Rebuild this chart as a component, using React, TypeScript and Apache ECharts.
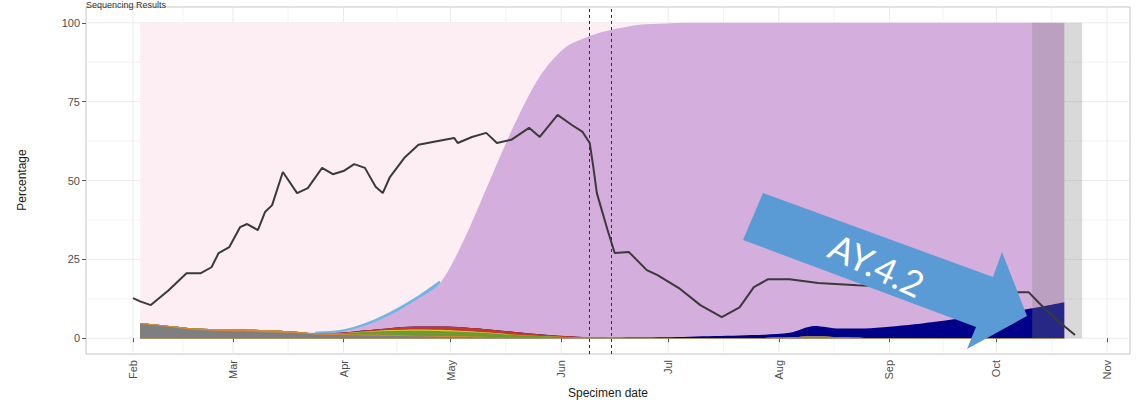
import React, { useEffect, useRef } from "react";
import * as echarts from "echarts";

// ---------- data ----------
const weeks = [
  "2021-02-03", "2021-02-10", "2021-02-17", "2021-02-24", "2021-03-03", "2021-03-10",
  "2021-03-17", "2021-03-24", "2021-03-31", "2021-04-07", "2021-04-14", "2021-04-21",
  "2021-04-28", "2021-05-05", "2021-05-12", "2021-05-19", "2021-05-26", "2021-06-02",
  "2021-06-09", "2021-06-16", "2021-06-23", "2021-06-30", "2021-07-07", "2021-07-14",
  "2021-07-21", "2021-07-28", "2021-08-04", "2021-08-11", "2021-08-18", "2021-08-25",
  "2021-09-01", "2021-09-08", "2021-09-15", "2021-09-22", "2021-09-29", "2021-10-06",
  "2021-10-13", "2021-10-20",
];
const otherLineages = [4.5, 3.7, 2.8, 2.4, 2.2, 2.0, 1.7, 1.2, 1.0, 0.9, 0.8, 0.6, 0.5, 0.4, 0.3, 0.2, 0.2, 0.1, 0.1, 0.1, 0.1, 0.1, 0.1, 0.1, 0.1, 0.1, 0.2, 0.6, 0.3, 0.1, 0.1, 0.1, 0.1, 0.1, 0.1, 0.1, 0.1, 0.1];
const orangeLineage = [0.3, 0.3, 0.4, 0.5, 0.6, 0.6, 0.5, 0.3, 0.3, 0.3, 0.3, 0.2, 0.2, 0.2, 0.1, 0, 0, 0, 0, 0, 0, 0, 0, 0, 0, 0, 0, 0, 0, 0, 0, 0, 0, 0, 0, 0, 0, 0];
const greenLineage = [0, 0, 0, 0, 0, 0, 0, 0.1, 0.3, 0.8, 1.2, 1.6, 1.6, 1.4, 1.2, 0.8, 0.5, 0.3, 0.1, 0, 0, 0, 0, 0, 0, 0, 0, 0, 0, 0, 0, 0, 0, 0, 0, 0, 0, 0];
const yellowLineage = [0, 0, 0, 0, 0, 0, 0, 0, 0, 0.1, 0.3, 0.4, 0.4, 0.3, 0.2, 0.1, 0, 0, 0, 0, 0, 0, 0, 0, 0, 0, 0, 0, 0, 0, 0, 0, 0, 0, 0, 0, 0, 0];
const redLineage = [0, 0, 0, 0, 0, 0, 0, 0, 0.1, 0.4, 0.6, 0.9, 1.0, 1.1, 1.0, 0.9, 0.6, 0.3, 0.1, 0.05, 0, 0, 0, 0, 0, 0, 0, 0, 0, 0, 0, 0, 0, 0, 0, 0, 0, 0];
const ay42 = [0, 0, 0, 0, 0, 0, 0, 0, 0, 0, 0, 0, 0, 0, 0, 0, 0, 0, 0, 0, 0.1, 0.2, 0.4, 0.6, 0.8, 1.0, 1.5, 3.3, 2.8, 3.0, 3.5, 4.3, 5.3, 6.3, 7.3, 8.4, 9.8, 11.3];
const delta = [0, 0, 0, 0, 0, 0, 0, 0.1, 0.3, 1.5, 4.2, 8.2, 13.7, 28.4, 47.2, 66.0, 81.7, 91.3, 95.5, 97.85, 99.2, 99.5, 99.5, 99.3, 99.1, 98.9, 98.3, 96.1, 96.9, 96.9, 96.4, 95.6, 94.6, 93.6, 92.6, 91.5, 90.1, 88.6];
const deltaEdge = [0, 0, 0, 0, 0, 0, 0, 0.1, 0.3, 0.5, 0.6, 0.6, 0.6, 0.2, 0, 0, 0, 0, 0, 0, 0, 0, 0, 0, 0, 0, 0, 0, 0, 0, 0, 0, 0, 0, 0, 0, 0, 0];
const alpha = [95.2, 96.0, 96.8, 97.1, 97.2, 97.4, 97.8, 98.2, 97.7, 95.5, 92.0, 87.5, 82.0, 68.0, 50.0, 32.0, 17.0, 8.0, 4.2, 2.0, 0.6, 0.2, 0, 0, 0, 0, 0, 0, 0, 0, 0, 0, 0, 0, 0, 0, 0, 0];

const trendDates = [
  "2021-02-01", "2021-02-03", "2021-02-06", "2021-02-11", "2021-02-16", "2021-02-20", "2021-02-23",
  "2021-02-25", "2021-02-28", "2021-03-03", "2021-03-05", "2021-03-08", "2021-03-10", "2021-03-12",
  "2021-03-15", "2021-03-19", "2021-03-22", "2021-03-26", "2021-03-29", "2021-04-01", "2021-04-04",
  "2021-04-07", "2021-04-10", "2021-04-12", "2021-04-14", "2021-04-18", "2021-04-22", "2021-04-26",
  "2021-05-02", "2021-05-03", "2021-05-07", "2021-05-11", "2021-05-14", "2021-05-18", "2021-05-23",
  "2021-05-26", "2021-05-31", "2021-06-04", "2021-06-07", "2021-06-09", "2021-06-10", "2021-06-11",
  "2021-06-14", "2021-06-16", "2021-06-20", "2021-06-25", "2021-06-28", "2021-07-04", "2021-07-10",
  "2021-07-16", "2021-07-21", "2021-07-25", "2021-07-29", "2021-08-04", "2021-08-12", "2021-08-23",
  "2021-09-03", "2021-09-12", "2021-09-25", "2021-10-07", "2021-10-10", "2021-10-13", "2021-10-18",
  "2021-10-23",
];
const trendValues = [
  12.7, 11.7, 10.5, 15.2, 20.6, 20.6, 22.5,
  27.0, 28.9, 35.2, 36.2, 34.3, 40.0, 42.2,
  52.7, 46.0, 47.6, 54.0, 52.0, 53.0, 55.2,
  54.0, 48.0, 46.0, 51.1, 57.1, 61.3, 62.2,
  63.5, 61.9, 63.8, 65.1, 61.9, 62.9, 66.7,
  63.8, 70.8, 67.6, 65.4, 61.9, 54.3, 46.0,
  34.3, 27.0, 27.3, 21.6, 20.0, 15.9, 10.5,
  6.7, 9.8, 16.2, 18.7, 18.7, 17.5, 16.8,
  16.2, 15.2, 14.6, 14.6, 14.6, 11.1, 5.7,
  1.0,
];

const monthTicks = ["2021-02-01", "2021-03-01", "2021-04-01", "2021-05-01", "2021-06-01", "2021-07-01", "2021-08-01", "2021-09-01", "2021-10-01", "2021-11-01"];
const monthLabels = ["Feb", "Mar", "Apr", "May", "Jun", "Jul", "Aug", "Sep", "Oct", "Nov"];
const minorMonthLines = ["2021-02-15", "2021-03-16 12:00:00", "2021-04-16", "2021-05-16 12:00:00", "2021-06-16", "2021-07-16 12:00:00", "2021-08-16 12:00:00", "2021-09-16", "2021-10-16 12:00:00"];
const yTicks = [0, 25, 50, 75, 100];
const yMinor = [12.5, 37.5, 62.5, 87.5];
const variantDates = ["2021-06-09", "2021-06-15"];
const incompleteWindow = ["2021-10-11", "2021-10-25"];
const xMin = "2021-01-18 20:00:00";
const xMax = "2021-11-07 10:00:00";

const ts = (s: string) => +echarts.number.parseDate(s);

export default function App() {
  const ref = useRef<HTMLDivElement>(null);
  useEffect(() => {
    if (!ref.current) return;
    const chart = echarts.init(ref.current, null, { renderer: "svg" });
    const font = "Liberation Sans";
    const monthTs = monthTicks.map(ts);

    // stack order, bottom to top
    const stackDefs: [string, number[], string][] = [
      ["Other", otherLineages, "#7F7F7F"],
      ["Lineage A", orangeLineage, "#D98A35"],
      ["Lineage B", greenLineage, "#6E9A2E"],
      ["Lineage C", yellowLineage, "#D8C83A"],
      ["Lineage D", redLineage, "#C0392B"],
      ["AY.4.2", ay42, "#000088"],
      ["Delta", delta, "#D4AEDD"],
      ["Delta edge", deltaEdge, "#6DB6E6"],
      ["Alpha", alpha, "#FDEEF4"],
    ];
    // cumulative tops (what stacking gives), drawn top layer first so lower layers paint over
    const running = weeks.map(() => 0);
    const layers = stackDefs.map(([name, vals, color]) => {
      const tops = vals.map((v, i) => (running[i] += v));
      return { name, color, tops: tops.slice() };
    });
    const areaSeries = layers
      .slice()
      .reverse()
      .map(({ name, color, tops }) => {
        const isEdge = name === "Delta edge";
        let pts = weeks.map((d, i) => [ts(d), tops[i]]);
        if (isEdge) pts = pts.slice(7, 13);
        return {
          name,
          type: "line",
          data: pts,
          symbol: "none",
          smooth: 0.3,
          lineStyle: isEdge ? { width: 1.8, color } : { width: 0, opacity: 0 },
          areaStyle: { color, opacity: 1 },
          itemStyle: { color },
          z: 2,
          silent: true,
        };
      });

    const vGrid = [
      ...monthTicks.map((d) => [ts(d), 50, 1]),
      ...minorMonthLines.map((d) => [ts(d), 50, 0.6]),
    ];
    const hGrid = [
      ...yTicks.map((v) => [ts("2021-06-01"), v, 1]),
      ...yMinor.map((v) => [ts("2021-06-01"), v, 0.6]),
    ];

    chart.setOption({
      animation: false,
      backgroundColor: "#ffffff",
      grid: {
        left: 86,
        right: 7,
        top: 7,
        bottom: 46,
        show: true,
        borderColor: "#C4C4C4",
        borderWidth: 1,
        backgroundColor: "#ffffff",
      },
      xAxis: {
        type: "value",
        min: ts(xMin),
        max: ts(xMax),
        axisLine: { show: false },
        axisTick: { show: true, customValues: monthTs, length: 4, lineStyle: { color: "#555" } },
        axisLabel: {
          customValues: monthTs,
          rotate: 90,
          margin: 6,
          color: "#4D4D4D",
          fontSize: 11,
          fontFamily: font,
          formatter: (v: number) => {
            const i = monthTs.indexOf(v);
            return i >= 0 ? monthLabels[i] : "";
          },
        },
        splitLine: { show: false },
      },
      yAxis: {
        type: "value",
        min: -5,
        max: 105,
        axisLine: { show: false },
        axisTick: { show: true, customValues: yTicks, length: 4, lineStyle: { color: "#555" } },
        axisLabel: { customValues: yTicks, margin: 6, color: "#4D4D4D", fontSize: 11, fontFamily: font },
        splitLine: { show: false },
      },
      series: [
        {
          type: "custom",
          z: 0,
          silent: true,
          data: vGrid,
          encode: { x: 0, y: 1 },
          renderItem: (params: any, api: any) => {
            const cs = params.coordSys;
            const x = api.coord([api.value(0), api.value(1)])[0];
            return {
              type: "line",
              shape: { x1: x, y1: cs.y, x2: x, y2: cs.y + cs.height },
              style: { stroke: "#EBEBEB", lineWidth: api.value(2) },
            };
          },
        },
        {
          type: "custom",
          z: 0,
          silent: true,
          data: hGrid,
          encode: { x: 0, y: 1 },
          renderItem: (params: any, api: any) => {
            const cs = params.coordSys;
            const y = api.coord([api.value(0), api.value(1)])[1];
            return {
              type: "line",
              shape: { x1: cs.x, y1: y, x2: cs.x + cs.width, y2: y },
              style: { stroke: "#EBEBEB", lineWidth: api.value(2) },
            };
          },
        },
        ...areaSeries,
        {
          type: "custom",
          z: 3,
          silent: true,
          data: [[ts(incompleteWindow[0]), 0, ts(incompleteWindow[1]), 100]],
          encode: { x: [0, 2], y: [1, 3] },
          renderItem: (params: any, api: any) => {
            const p1 = api.coord([api.value(0), api.value(3)]);
            const p2 = api.coord([api.value(2), api.value(1)]);
            return {
              type: "rect",
              shape: { x: p1[0], y: p1[1], width: p2[0] - p1[0], height: p2[1] - p1[1] },
              style: { fill: "rgba(128,128,128,0.3)" },
            };
          },
        },
        {
          name: "Trend",
          type: "line",
          z: 4,
          data: trendDates.map((d, i) => [ts(d), trendValues[i]]),
          symbol: "none",
          lineStyle: { color: "#3A3A3A", width: 2 },
          itemStyle: { color: "#3A3A3A" },
          silent: true,
          markLine: {
            silent: true,
            symbol: "none",
            label: { show: false },
            lineStyle: { color: "#333", width: 1, type: [3, 3] },
            data: variantDates.map((d) => ({ xAxis: ts(d) })),
          },
        },
      ],
      graphic: [
        {
          type: "text",
          x: 86,
          y: 0,
          z: 100,
          style: { text: "Sequencing Results", fill: "#333", font: `9px "${font}"` },
        },
        {
          type: "text",
          x: 22,
          y: 180,
          rotation: Math.PI / 2,
          z: 100,
          style: {
            text: "Percentage",
            fill: "#1a1a1a",
            font: `12px "${font}"`,
            align: "center",
            verticalAlign: "middle",
            textAlign: "center",
            textVerticalAlign: "middle",
          },
        },
        {
          type: "text",
          x: 608,
          y: 393,
          z: 100,
          style: {
            text: "Specimen date",
            fill: "#1a1a1a",
            font: `12px "${font}"`,
            align: "center",
            verticalAlign: "middle",
            textAlign: "center",
            textVerticalAlign: "middle",
          },
        },
        {
          type: "polygon",
          z: 100,
          shape: {
            points: [[763, 193], [993, 277], [1002, 252], [1027, 316], [967, 349], [976, 327], [743, 240]],
          },
          style: { fill: "#5B9BD5" },
        },
        {
          type: "text",
          x: 877,
          y: 265,
          rotation: -0.44,
          z: 101,
          style: {
            text: "AY.4.2",
            fill: "#ffffff",
            font: `36px Lato`,
            align: "center",
            verticalAlign: "middle",
            textAlign: "center",
            textVerticalAlign: "middle",
          },
        },
      ],
    });
    return () => chart.dispose();
  }, []);
  return (
    <div
      ref={ref}
      style={{ position: "fixed", left: 0, top: 0, width: 1137, height: 400, background: "#fff" }}
    />
  );
}
